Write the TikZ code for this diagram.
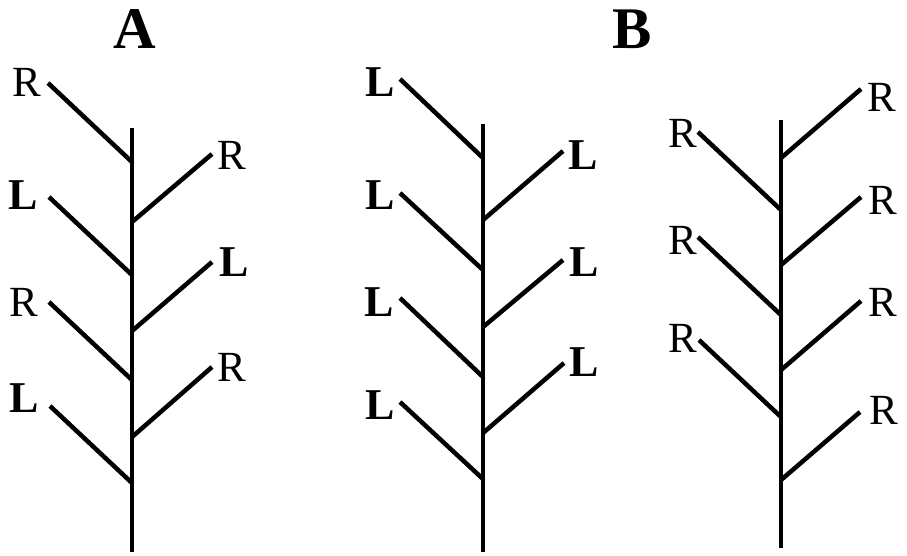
\documentclass[tikz,border=0pt]{standalone}
\usepackage{fontspec}
\setmainfont{Liberation Serif}
\begin{document}
\begin{tikzpicture}[x=1pt,y=-1pt,
  stem/.style={line width=4.6pt},
  branch/.style={line width=4.5pt},
  lab/.style={inner sep=0pt,font=\fontsize{43}{43}\selectfont},
  blab/.style={inner sep=0pt,font=\fontsize{44}{44}\selectfont\bfseries},
  ttl/.style={inner sep=0pt,font=\fontsize{59}{59}\selectfont\bfseries}]
\useasboundingbox (0,0) rectangle (907,556);
% titles
\node[ttl] (tA) at (135,29) {A};
\node[ttl] (tB) at (632,29) {B};
% ---------- Tree A ----------
\coordinate (a0) at (132,128); \coordinate (a9) at (132,552);
\draw[stem] (a0) -- (a9);
\coordinate (al1) at (48,83);  \coordinate (aj1) at (132,162);
\coordinate (al2) at (49,197); \coordinate (aj2) at (132,275);
\coordinate (al3) at (49,302); \coordinate (aj3) at (132,380);
\coordinate (al4) at (50,406); \coordinate (aj4) at (132,483);
\coordinate (ar1) at (212,154); \coordinate (ak1) at (132,222);
\coordinate (ar2) at (212,262); \coordinate (ak2) at (132,331);
\coordinate (ar3) at (212,367); \coordinate (ak3) at (132,437);
\foreach \i in {1,2,3,4} \draw[branch] (al\i) -- (aj\i);
\foreach \i in {1,2,3} \draw[branch] (ak\i) -- (ar\i);
\node[lab]  (aL1) at (27,82) {R};
\node[blab] (aL2) at (23,195) {L};
\node[lab]  (aL3) at (24,302) {R};
\node[blab] (aL4) at (24,398) {L};
\node[lab]  (aR1) at (232,155) {R};
\node[blab] (aR2) at (234,262) {L};
\node[lab]  (aR3) at (232,367) {R};
% ---------- Tree B1 ----------
\coordinate (b0) at (483,124); \coordinate (b9) at (483,552);
\draw[stem] (b0) -- (b9);
\coordinate (bl1) at (400,79);  \coordinate (bj1) at (483,158);
\coordinate (bl2) at (400,193); \coordinate (bj2) at (483,270);
\coordinate (bl3) at (400,298); \coordinate (bj3) at (483,377);
\coordinate (bl4) at (400,402); \coordinate (bj4) at (483,479);
\coordinate (br1) at (563,151); \coordinate (bk1) at (483,220);
\coordinate (br2) at (563,260); \coordinate (bk2) at (483,327);
\coordinate (br3) at (564,363); \coordinate (bk3) at (483,433);
\foreach \i in {1,2,3,4} \draw[branch] (bl\i) -- (bj\i);
\foreach \i in {1,2,3} \draw[branch] (bk\i) -- (br\i);
\node[blab] (bL1) at (380,82) {L};
\node[blab] (bL2) at (380,195) {L};
\node[blab] (bL3) at (379,302) {L};
\node[blab] (bL4) at (380,405) {L};
\node[blab] (bR1) at (583,155) {L};
\node[blab] (bR2) at (584,262) {L};
\node[blab] (bR3) at (584,362) {L};
% ---------- Tree B2 ----------
\coordinate (c0) at (781,120); \coordinate (c9) at (781,548);
\draw[stem] (c0) -- (c9);
\coordinate (cr1) at (861,89);  \coordinate (ck1) at (781,158);
\coordinate (cr2) at (861,197); \coordinate (ck2) at (781,265);
\coordinate (cr3) at (861,301); \coordinate (ck3) at (781,370);
\coordinate (cr4) at (860,412); \coordinate (ck4) at (781,480);
\coordinate (cl1) at (698,132); \coordinate (cj1) at (781,210);
\coordinate (cl2) at (698,237); \coordinate (cj2) at (781,315);
\coordinate (cl3) at (699,340); \coordinate (cj3) at (781,417);
\foreach \i in {1,2,3,4} \draw[branch] (ck\i) -- (cr\i);
\foreach \i in {1,2,3} \draw[branch] (cl\i) -- (cj\i);
\node[lab] (cR1) at (882,97) {R};
\node[lab] (cR2) at (883,200) {R};
\node[lab] (cR3) at (883,302) {R};
\node[lab] (cR4) at (884,410) {R};
\node[lab] (cL1) at (683,133) {R};
\node[lab] (cL2) at (683,240) {R};
\node[lab] (cL3) at (683,338) {R};
\end{tikzpicture}
\end{document}
